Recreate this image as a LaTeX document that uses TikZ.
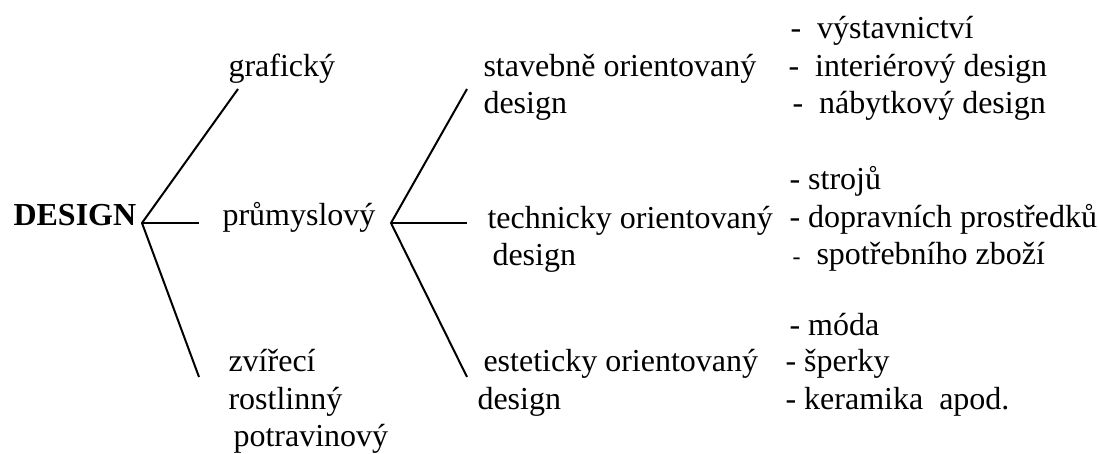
\documentclass[tikz,border=0pt]{standalone}
\usepackage{fontspec}
\setmainfont{Liberation Serif}

\begin{document}
\begin{tikzpicture}[
    x=0.375pt, y=-0.375pt,
    font=\fontsize{12}{14}\selectfont,
    txt/.style={anchor=base west, inner sep=0pt},
    koren/.style={txt, font=\fontsize{12}{14}\selectfont\bfseries},
    vetev/.style={line width=0.75pt},
]
\useasboundingbox (0,0) rectangle (1099,454);

% koren
\node[koren] (design) at (13,226) {DESIGN};

% prvni uroven
\node[txt] (graf) at (228,77) {grafický};
\node[txt] (prum) at (222,226) {průmyslový};
\node[txt] (zvir) at (228,372) {zvířecí};
\node[txt] (rost) at (228,410) {rostlinný};
\node[txt] (potr) at (233,447) {potravinový};

% druha uroven
\node[txt] (stav)  at (483,77)  {stavebně orientovaný};
\node[txt] (stavD) at (483,114) {design};
\node[txt] (tech)  at (487,229) {technicky orientovaný};
\node[txt] (techD) at (492,266) {design};
\node[txt] (est)   at (483,372) {esteticky orientovaný};
\node[txt] (estD)  at (477,410) {design};

% obory
\node[txt] (vyst)  at (790,39)  {-\ \ výstavnictví};
\node[txt] (inter) at (788,77)  {-\ \ interiérový design};
\node[txt] (nabyt) at (792,114) {-\ \ nábytkový design};
\node[txt] (stroj) at (789,190) {- strojů};
\node[txt] (dopr)  at (789,228) {- dopravních prostředků};
\node[txt] (spotr) at (792,265) {{\small -}\ \ spotřebního zboží};
\node[txt] (moda)  at (789,336) {- móda};
\node[txt] (sperk) at (785,372) {- šperky};
\node[txt] (keram) at (785,410) {- keramika\ \ apod.};

% vetveni za DESIGN
\coordinate (r1)  at (142,223);
\coordinate (r1a) at (238,89);
\coordinate (r1b) at (199,223);
\coordinate (r1c) at (199,377);
\draw[vetev] (r1a) -- (r1) -- (r1c);
\draw[vetev] (r1) -- (r1b);

% vetveni za prumyslovy
\coordinate (r2)  at (391,223);
\coordinate (r2a) at (467,89);
\coordinate (r2b) at (467,223);
\coordinate (r2c) at (467,377);
\draw[vetev] (r2a) -- (r2) -- (r2c);
\draw[vetev] (r2) -- (r2b);

\end{tikzpicture}
\end{document}
